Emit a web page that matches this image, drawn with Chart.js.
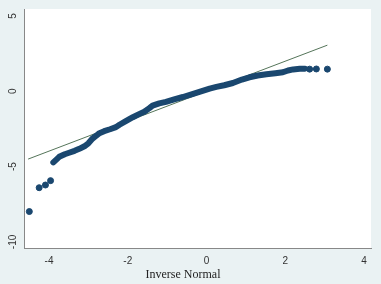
<!DOCTYPE html>
<html>
<head>
<meta charset="utf-8">
<script src="https://cdn.jsdelivr.net/npm/chart.js@4"></script>
<style>
  html, body { margin: 0; padding: 0; background: #eaf2f3; }
  #wrap { width: 381px; height: 284px; }
</style>
</head>
<body>
<div id="wrap"><canvas id="qq" width="381" height="284"></canvas></div>
<script>
// dense part of the quantile curve (inverse normal, value)
const bandX = [-3.89, -3.80, -3.74, -3.60, -3.49, -3.35, -3.23, -3.10, -3.00, -2.90, -2.80, -2.72, -2.60, -2.45, -2.30, -2.21, -2.05, -1.87, -1.70, -1.58, -1.45, -1.37, -1.20, -1.03, -0.80, -0.60, -0.40, -0.18, 0.08, 0.25, 0.45, 0.67, 0.90, 1.09, 1.30, 1.52, 1.75, 1.94, 2.07, 2.20, 2.37, 2.50]
const bandY = [-4.72, -4.50, -4.35, -4.18, -4.08, -3.95, -3.82, -3.65, -3.45, -3.15, -2.95, -2.78, -2.65, -2.52, -2.38, -2.22, -1.98, -1.72, -1.50, -1.36, -1.12, -0.95, -0.80, -0.70, -0.52, -0.38, -0.22, -0.04, 0.18, 0.29, 0.40, 0.55, 0.78, 0.93, 1.05, 1.13, 1.20, 1.26, 1.38, 1.45, 1.49, 1.50]
// isolated points in the tails
const tailX = [-4.50, -4.25, -4.09, -3.96, 2.62, 2.79, 3.07]
const tailY = [-7.98, -6.40, -6.22, -5.93, 1.47, 1.48, 1.47]
// reference line end points
const refX = [-4.53, 3.07]
const refY = [-4.50, 3.06]

const xTicks = [-4, -2, 0, 2, 4]
const yTicks = [-10, -5, 0, 5]

const pairs = (xs, ys) => xs.map((x, i) => ({ x: x, y: ys[i] }))

const navy = '#1a476f'
const tickFont = { family: 'Liberation Sans, Arial, sans-serif', size: 10 }

const bgPlugin = {
    id: 'bg',
    beforeDraw(chart) {
        const c = chart.ctx, a = chart.chartArea
        c.save()
        c.fillStyle = '#eaf2f3'
        c.fillRect(0, 0, chart.width, chart.height)
        c.fillStyle = '#ffffff'
        c.fillRect(a.left, a.top, a.right - a.left, a.bottom - a.top)
        c.restore()
    },
    afterDraw(chart) {
        const c = chart.ctx
        c.save()
        c.fillStyle = '#222'
        c.font = '12px "Liberation Serif", "Times New Roman", serif'
        c.textAlign = 'center'
        c.textBaseline = 'middle'
        c.fillText('Inverse Normal', 183, 275)
        c.restore()
    }
}

new Chart(
    document.getElementById('qq'),
    {
        type: 'scatter',
        data: {
            datasets: [
                {
                    label: 'ref',
                    type: 'line',
                    data: pairs(refX, refY),
                    borderColor: '#55755a',
                    borderWidth: 1,
                    pointRadius: 0,
                    order: 3,
                },
                {
                    label: 'band',
                    type: 'line',
                    data: pairs(bandX, bandY),
                    borderColor: navy,
                    borderWidth: 6,
                    borderCapStyle: 'round',
                    borderJoinStyle: 'round',
                    pointRadius: 0,
                    tension: 0,
                    order: 2,
                },
                {
                    label: 'tails',
                    data: pairs(tailX, tailY),
                    backgroundColor: navy,
                    borderColor: navy,
                    pointRadius: 3,
                    order: 1,
                },
            ]
        },
        options: {
            responsive: false,
            animation: false,
            layout: { padding: { left: 0, right: 10, top: 9, bottom: 0 } },
            plugins: {
                legend: { display: false },
                tooltip: { enabled: false },
            },
            scales: {
                x: {
                    type: 'linear',
                    min: -4.635,
                    max: 4.178,
                    afterBuildTicks: (s) => { s.ticks = xTicks.map(v => ({ value: v })) },
                    afterFit: (s) => { s.height = 36 },
                    grid: { display: false, drawTicks: true, tickLength: 4, tickColor: '#777' },
                    border: { color: '#888', width: 1 },
                    ticks: { color: '#333', font: tickFont, padding: 3, maxRotation: 0 },
                },
                y: {
                    type: 'linear',
                    min: -10.4,
                    max: 5.46,
                    afterBuildTicks: (s) => { s.ticks = yTicks.map(v => ({ value: v })) },
                    afterFit: (s) => { s.width = 24 },
                    grid: { display: false, drawTicks: true, tickLength: 4, tickColor: '#777' },
                    border: { color: '#888', width: 1 },
                    ticks: { color: '#333', font: tickFont, padding: 0, crossAlign: 'center', minRotation: 90, maxRotation: 90 },
                },
            }
        },
        plugins: [bgPlugin]
    }
)
</script>
</body>
</html>
